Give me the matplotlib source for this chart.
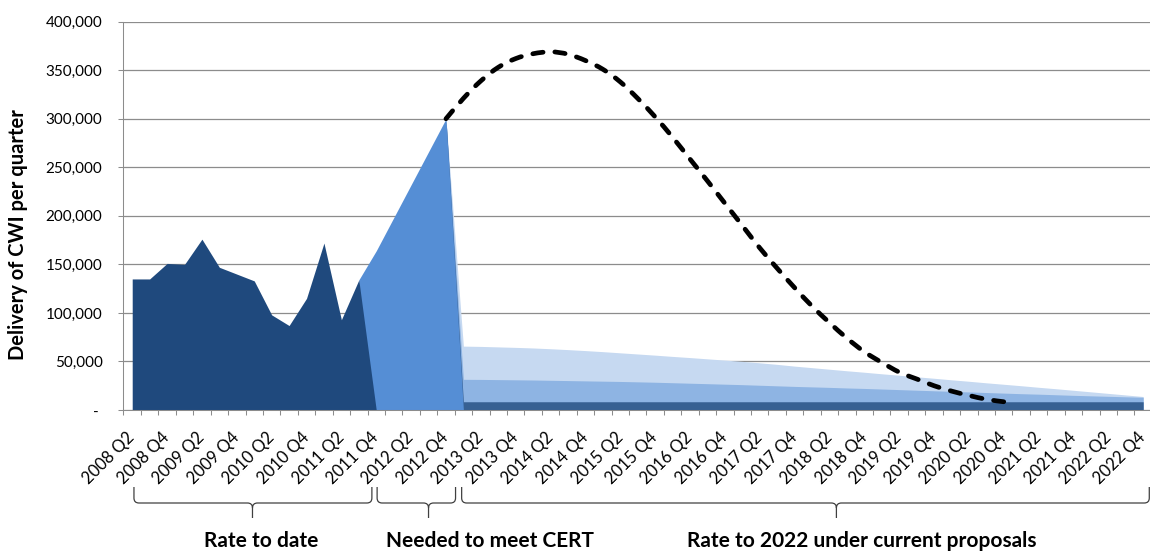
import numpy as np
import matplotlib
matplotlib.use("Agg")
import matplotlib.pyplot as plt
from matplotlib.path import Path
from matplotlib.patches import PathPatch
from matplotlib.transforms import IdentityTransform

plt.rcParams['font.family'] = ['Lato', 'DejaVu Sans']

# quarters 2008 Q2 .. 2022 Q4
quarters = [f"{y} Q{q}" for y in range(2008, 2023) for q in range(1, 5)][1:]

# delivered so far (2008 Q2 .. 2011 Q4)
rate_to_date = [135000, 135000, 151000, 150000, 176000, 147000, 140000, 133000,
                98000, 87000, 115000, 172000, 93000, 134000, 0]
# needed to meet CERT (2011 Q3 .. 2013 Q1)
needed = [134000, 164000, 198000, 232000, 266000, 300000, 0]
# rate under current proposals, stacked tops (2013 Q1 .. 2022 Q4)
future_base = [8500] * 40
future_mid = [31600, 31500, 31300, 31100, 30900, 30600, 30300, 30000, 29700, 29400,
              29000, 28600, 28100, 27600, 27100, 26600, 26100, 25500, 24900, 24300,
              23800, 23300, 22700, 22200, 21600, 21000, 20400, 19800, 19200, 18600,
              18000, 17400, 16800, 16300, 15700, 15100, 14600, 14100, 13600, 13100]
future_top = [65800, 65500, 65000, 64500, 63900, 63100, 62200, 61200, 60100, 58900,
              57700, 56500, 55200, 54000, 52700, 51400, 50100, 48600, 47000, 45200,
              43600, 42000, 40400, 38900, 37300, 35800, 34200, 32700, 31100, 29600,
              28000, 26500, 25000, 23400, 21900, 20300, 18700, 17100, 15500, 13900]
# dashed trajectory (2012 Q4 .. 2020 Q4)
trajectory = [300000, 321000, 339000, 353000, 362000, 367000, 369000, 366500, 360000,
              351000, 338000, 321000, 302000, 281000, 258500, 236000, 213000, 190000,
              167000, 146000, 126000, 107000, 90000, 74000, 60000, 49000, 39000,
              32000, 25000, 19500, 15000, 11000, 8500]

groups = ["Rate to date", "Needed to meet CERT", "Rate to 2022 under current proposals"]

idx = np.arange(len(quarters))
h_x = idx[:len(rate_to_date)]
n_x = idx[13:13 + len(needed)]
f_x = idx[18:]
t_x = idx[18:18 + len(trajectory)]
peak = needed[-2]

fig = plt.figure(figsize=(11.5, 5.52), dpi=100)
ax = fig.add_axes([123.5 / 1150, 142 / 552, 1028.4 / 1150, 388.3 / 552])

ax.fill_between(f_x, 0, [peak] + future_top, color='#c6d9f1', lw=0, zorder=2)
ax.fill_between(f_x, 0, [peak] + future_mid, color='#8eb4e3', lw=0, zorder=3)
ax.fill_between(f_x, 0, [peak] + future_base, color='#376092', lw=0, zorder=4)
ax.fill_between(n_x, 0, needed, color='#558ed5', lw=0, zorder=5)
ax.fill_between(h_x, 0, rate_to_date, color='#1f497d', lw=0, zorder=6)

# smoothed line like excel (catmull-rom -> bezier)
pts = np.column_stack([t_x, trajectory]).astype(float)
verts = [tuple(pts[0])]
codes = [Path.MOVETO]
for k in range(len(pts) - 1):
    p0 = pts[max(k - 1, 0)]
    p1 = pts[k]
    p2 = pts[k + 1]
    p3 = pts[min(k + 2, len(pts) - 1)]
    verts += [tuple(p1 + (p2 - p0) / 6), tuple(p2 - (p3 - p1) / 6), tuple(p2)]
    codes += [Path.CURVE4] * 3
ax.add_patch(PathPatch(Path(verts, codes), fill=False, ec='black', lw=3.4,
                       ls=(0, (2.2, 2.5)), capstyle='round', zorder=7))

ax.set_xlim(-0.5, len(quarters) - 0.5)
ax.set_ylim(0, 400000)
yt = np.arange(0, 400001, 50000)
ax.set_yticks(yt)
ax.set_yticklabels([f"{v:,}" if v else "- " for v in yt], fontsize=11)
ax.set_xticks(idx[::2])
ax.set_xticklabels(quarters[::2], rotation=45, ha='right', va='center',
                   rotation_mode='anchor', fontsize=12)
ax.set_xticks(np.arange(-0.5, len(quarters)), minor=True)
ax.tick_params(axis='x', which='major', length=0, pad=18)
ax.tick_params(axis='x', which='minor', length=3.6, color='#8c8c8c', width=0.75)
ax.tick_params(axis='y', length=3.6, color='#8c8c8c', width=0.75, pad=11.5)

ax.yaxis.grid(True, color='#8c8c8c', lw=0.9)
ax.set_axisbelow(True)
for s in ['top', 'right']:
    ax.spines[s].set_visible(False)
for s in ['left', 'bottom']:
    ax.spines[s].set_color('#8c8c8c')
    ax.spines[s].set_linewidth(0.75)
    ax.spines[s].set_zorder(8)

fig.text(18 / 1150, 1 - 235 / 552, "Delivery of CWI per quarter", rotation=90,
         ha='center', va='center', fontsize=14.5, fontweight='bold')


def brace(x0, x1, xt):
    X0 = ax.transData.transform((x0, 0))[0]
    X1 = ax.transData.transform((x1, 0))[0]
    XT = ax.transData.transform((xt, 0))[0]
    top, mid, tip, r = 65, 49, 34, 5
    verts = [(X0, top), (X0, mid + r), (X0, mid), (X0 + r, mid), (XT - r, mid),
             (XT, mid), (XT, mid - r), (XT, tip),
             (XT, mid - r), (XT, mid), (XT + r, mid), (X1 - r, mid),
             (X1, mid), (X1, mid + r), (X1, top)]
    codes = [Path.MOVETO, Path.LINETO, Path.CURVE3, Path.CURVE3, Path.LINETO,
             Path.CURVE3, Path.CURVE3, Path.LINETO,
             Path.MOVETO, Path.CURVE3, Path.CURVE3, Path.LINETO,
             Path.CURVE3, Path.CURVE3, Path.LINETO]
    fig.add_artist(PathPatch(Path(verts, codes), transform=IdentityTransform(),
                             fill=False, ec='#404040', lw=0.9))


brace(0.1, 13.75, 6.9)
brace(14.05, 18.55, 17.0)
brace(18.9, 58.35, 40.4)

for label, xc in zip(groups, [261, 490, 862]):
    fig.text(xc / 1150, 1 - 541 / 552, label, ha='center', va='center',
             fontsize=15, fontweight='bold')

fig.savefig("out.png", dpi=100)
